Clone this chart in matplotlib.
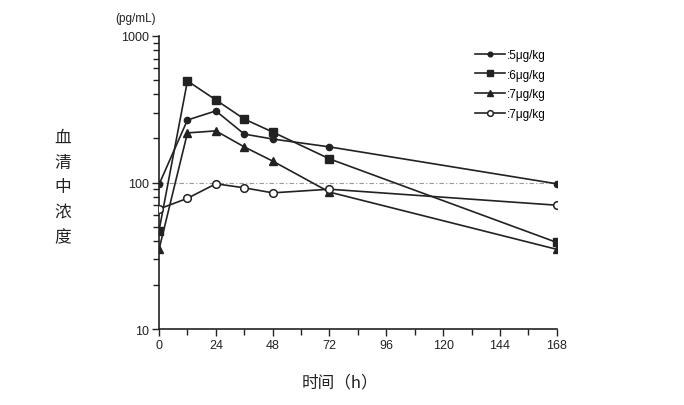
import matplotlib
matplotlib.use("Agg")
import matplotlib.pyplot as plt
from matplotlib.ticker import FixedLocator, NullFormatter

hours = [0, 12, 24, 36, 48, 72, 168]
s5 = [97, 267, 308, 214, 198, 175, 98]
s6 = [47, 493, 366, 271, 221, 145, 39]
s7a = [35, 218, 225, 175, 140, 86, 35]
s7b = [66, 78, 98, 92, 85, 90, 70]
labels = [":5\u03bcg/kg", ":6\u03bcg/kg", ":7\u03bcg/kg", ":7\u03bcg/kg"]
xticks = [0, 24, 48, 72, 96, 120, 144, 168]
yticks = [10, 100, 1000]

plt.rcParams['font.family'] = ['Liberation Sans', 'DejaVu Sans']
fig = plt.figure(figsize=(6.84, 4.06), dpi=100)
ax = fig.add_axes([0.2325, 0.187, 0.5815, 0.722])

ax.axhline(100, color='#999999', lw=0.8, ls=(0, (4, 2, 1, 2)), zorder=1)

kw = dict(color='#222222', lw=1.2, zorder=3)
ax.plot(hours, s5, marker='o', ms=4.5, label=labels[0], **kw)
ax.plot(hours, s6, marker='s', ms=5.5, label=labels[1], **kw)
ax.plot(hours, s7a, marker='^', ms=5.5, label=labels[2], **kw)
ax.plot(hours, s7b, marker='o', ms=5.5, mfc='white', mew=1.1, label=labels[3], **kw)

ax.set_yscale('log')
ax.set_ylim(10, 1000)
ax.set_xlim(0, 168)
ax.set_xticks(xticks)
ax.xaxis.set_minor_locator(FixedLocator(list(range(12, 168, 24))))
ax.set_yticks(yticks)
ax.set_yticklabels([str(v) for v in yticks])
ax.yaxis.set_minor_formatter(NullFormatter())
for s in ['top', 'right']:
    ax.spines[s].set_visible(False)
for s in ['left', 'bottom']:
    ax.spines[s].set_linewidth(1.2)
    ax.spines[s].set_color('#222222')
ax.tick_params(which='major', direction='out', length=5, width=1, labelsize=9, colors='#222222', pad=2)
ax.tick_params(which='minor', direction='out', length=4, width=1, colors='#222222')

ax.text(-0.11, 1.04, "(pg/mL)", transform=ax.transAxes, fontsize=8.5, ha='left', va='bottom', color='#222222')

leg = ax.legend(loc='upper right', bbox_to_anchor=(0.99, 0.98), frameon=False, fontsize=8.5,
                handlelength=2.5, labelspacing=0.65, handletextpad=0.2, borderaxespad=0.2,
                markerscale=0.75)

cjk = ['Noto Sans CJK SC', 'DejaVu Sans']
fig.text(0.092, 0.537, "血\n清\n中\n浓\n度", family=cjk, fontsize=12, ha='center', va='center',
         linespacing=1.6, color='#222222', weight='light')
fig.text(0.497, 0.058, "时间（h）", family=cjk, fontsize=12, ha='center', va='center', color='#222222', weight='light')

fig.savefig("out.png", dpi=100)
